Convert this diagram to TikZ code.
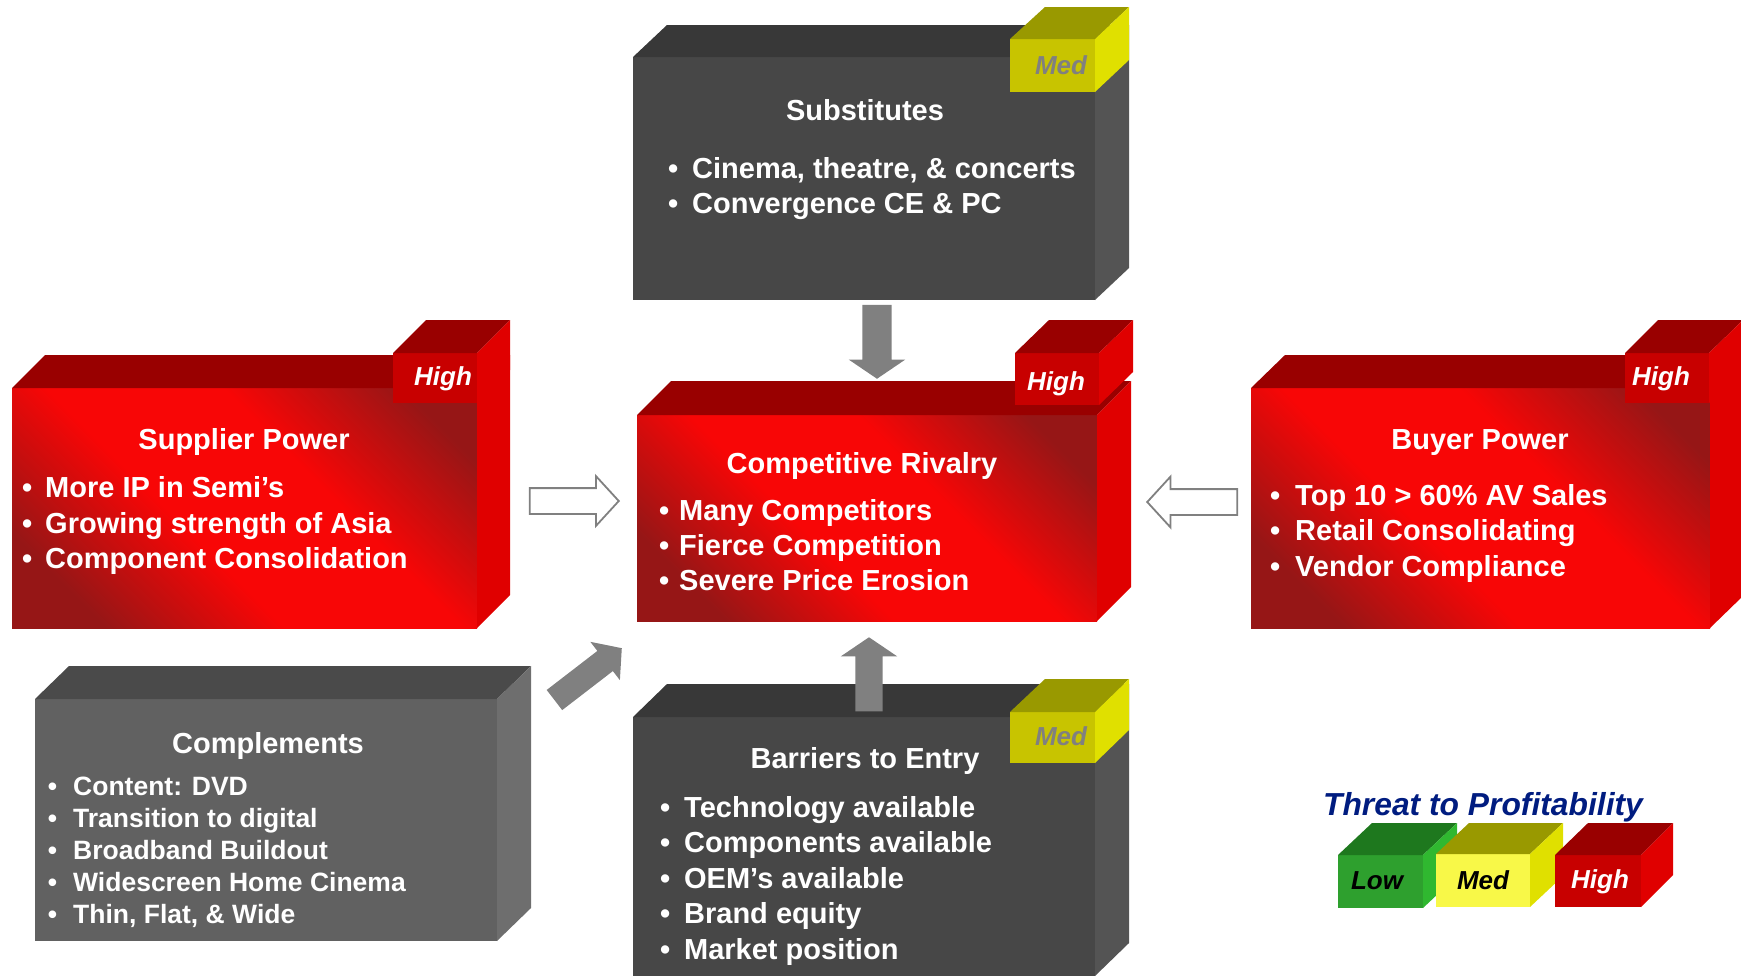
\documentclass[tikz,border=0pt]{standalone}
\usepackage{fontspec}
\setmainfont{Liberation Sans}
\usetikzlibrary{shapes.arrows}

\definecolor{gfront}{RGB}{71,71,71}
\definecolor{gtop}{RGB}{56,56,56}
\definecolor{gside}{RGB}{84,84,84}
\definecolor{cfront}{RGB}{97,97,97}
\definecolor{ctop}{RGB}{74,74,74}
\definecolor{cside}{RGB}{110,110,110}
\definecolor{rdark}{RGB}{150,22,22}
\definecolor{rbright}{RGB}{248,6,6}
\definecolor{rtop}{RGB}{153,0,0}
\definecolor{rside}{RGB}{224,0,0}
\definecolor{rbadge}{RGB}{200,0,0}
\definecolor{ybadge}{RGB}{200,196,0}
\definecolor{ytop}{RGB}{153,153,0}
\definecolor{yside}{RGB}{224,224,0}
\definecolor{lowfront}{RGB}{46,160,46}
\definecolor{lowtop}{RGB}{30,120,30}
\definecolor{lowside}{RGB}{48,184,48}
\definecolor{medfront}{RGB}{248,248,72}
\definecolor{arrgrey}{RGB}{128,128,128}
\definecolor{threatblue}{RGB}{0,28,128}

\pgfdeclareverticalshading{redglow}{100bp}{color(0bp)=(rdark); color(24bp)=(rdark); color(42bp)=(rbright); color(60bp)=(rbright); color(78bp)=(rdark); color(100bp)=(rdark)}

\newcommand\bul[1][14pt]{\llap{\textbullet\hspace{#1}}}

\begin{document}
\begin{tikzpicture}[x=1pt,y=-1pt,
  title/.style={text=white,font=\fontsize{29}{35}\selectfont\bfseries,anchor=base,inner sep=0pt},
  item/.style={text=white,font=\fontsize{29}{35}\selectfont\bfseries,anchor=base west,inner sep=0pt},
  smallitem/.style={item,font=\fontsize{26.5}{32}\selectfont\bfseries},
  lvl/.style={font=\fontsize{26}{30}\selectfont\bfseries\itshape,anchor=base,inner sep=0pt},
  redface/.style={shading=redglow,shading angle=-45},
  blockarrow/.style={single arrow,fill=arrgrey,inner xsep=0pt,anchor=tip},
  openarrow/.style={single arrow,draw=arrgrey,line width=1.8pt,fill=white,inner xsep=0pt,anchor=tip},
]
\useasboundingbox (0,0) rectangle (1741,975);

% substitutes
\fill[gfront] (633,57) rectangle (1095,300);
\fill[gtop] (633,57) -- (667,25) -- (1129,25) -- (1095,57) -- cycle;
\fill[gside] (1095,57) -- (1129,25) -- (1129,268) -- (1095,300) -- cycle;
\fill[ybadge] (1010,39) rectangle (1095,92);
\fill[ytop] (1010,39) -- (1045,7) -- (1129,7) -- (1095,39) -- cycle;
\fill[yside] (1095,39) -- (1129,7) -- (1129,60) -- (1095,92) -- cycle;
\node (subsLvl) at (1061,74)[lvl,text=arrgrey] {Med};
\node (subsT) at (865,120)[title] {Substitutes};
\node (subs1) at (692,178)[item] {\bul Cinema, theatre, \& concerts};
\node (subs2) at (692,213)[item] {\bul Convergence CE \& PC};

% supplier power
\shade[redface] (12,388) rectangle (477,628);
\fill[rtop] (12,388) -- (45,355) -- (510,355) -- (477,388) -- cycle;
\fill[rside] (477,388) -- (510,355) -- (510,595) -- (477,628) -- cycle;
\fill[rbadge] (393,353) rectangle (477,403);
\fill[rtop] (393,353) -- (426,320) -- (510,320) -- (477,353) -- cycle;
\fill[rside] (477,353) -- (510,320) -- (510,370) -- (477,403) -- cycle;
\node (suppLvl) at (443,385)[lvl,text=white] {High};
\node (suppT) at (244,449)[title] {Supplier Power};
\node (supp1) at (45,497)[item] {\bul[13pt]More IP in Semi’s};
\node (supp2) at (45,533)[item] {\bul[13pt]Growing strength of Asia};
\node (supp3) at (45,568)[item] {\bul[13pt]Component Consolidation};

% competitive rivalry
\shade[redface] (637,415) rectangle (1097,621);
\fill[rtop] (637,415) -- (671,381) -- (1131,381) -- (1097,415) -- cycle;
\fill[rside] (1097,415) -- (1131,381) -- (1131,587) -- (1097,621) -- cycle;
\fill[rbadge] (1015,353) rectangle (1099,405);
\fill[rtop] (1015,353) -- (1049,320) -- (1133,320) -- (1099,353) -- cycle;
\fill[rside] (1099,353) -- (1133,320) -- (1133,372) -- (1099,405) -- cycle;
\node (rivLvl) at (1056,390)[lvl,text=white] {High};
\node (rivT) at (862,473)[title] {Competitive Rivalry};
\node (riv1) at (679,520)[item] {\bul[10pt]Many Competitors};
\node (riv2) at (679,555)[item] {\bul[10pt]Fierce Competition};
\node (riv3) at (679,590)[item] {\bul[10pt]Severe Price Erosion};

% buyer power
\shade[redface] (1251,388) rectangle (1710,628);
\fill[rtop] (1251,388) -- (1285,355) -- (1744,355) -- (1710,388) -- cycle;
\fill[rside] (1710,388) -- (1744,355) -- (1744,595) -- (1710,628) -- cycle;
\fill[rbadge] (1625,353) rectangle (1709,403);
\fill[rtop] (1625,353) -- (1658,320) -- (1743,320) -- (1709,353) -- cycle;
\fill[rside] (1709,353) -- (1743,320) -- (1743,370) -- (1709,403) -- cycle;
\node (buyLvl) at (1661,385)[lvl,text=white] {High};
\node (buyT) at (1480,449)[title] {Buyer Power};
\node (buy1) at (1295,505)[item] {\bul[15pt]Top 10 > 60\% AV Sales};
\node (buy2) at (1295,540)[item] {\bul[15pt]Retail Consolidating};
\node (buy3) at (1295,576)[item] {\bul[15pt]Vendor Compliance};

% complements
\fill[cfront] (35,699) rectangle (497,941);
\fill[ctop] (35,699) -- (69,666) -- (531,666) -- (497,699) -- cycle;
\fill[cside] (497,699) -- (531,666) -- (531,908) -- (497,941) -- cycle;
\node (compT) at (268,753)[title] {Complements};
\node (comp1) at (73,795)[smallitem] {\bul[16pt]Content: DVD};
\node (comp2) at (73,827)[smallitem] {\bul[16pt]Transition to digital};
\node (comp3) at (73,859)[smallitem] {\bul[16pt]Broadband Buildout};
\node (comp4) at (73,891)[smallitem] {\bul[16pt]Widescreen Home Cinema};
\node (comp5) at (73,923)[smallitem] {\bul[16pt]Thin, Flat, \& Wide};

% barriers to entry
\fill[gfront] (633,717) rectangle (1095,976);
\fill[gtop] (633,717) -- (667,684) -- (1129,684) -- (1095,717) -- cycle;
\fill[gside] (1095,717) -- (1129,684) -- (1129,943) -- (1095,976) -- cycle;
\fill[ybadge] (1010,712) rectangle (1095,763);
\fill[ytop] (1010,712) -- (1045,679) -- (1129,679) -- (1095,712) -- cycle;
\fill[yside] (1095,712) -- (1129,679) -- (1129,730) -- (1095,763) -- cycle;
\node (barLvl) at (1061,745)[lvl,text=arrgrey] {Med};
\node (barT) at (865,768)[title] {Barriers to Entry};
\node (bar1) at (684,817)[item] {\bul Technology available};
\node (bar2) at (684,852)[item] {\bul Components available};
\node (bar3) at (684,888)[item] {\bul OEM’s available};
\node (bar4) at (684,923)[item] {\bul Brand equity};
\node (bar5) at (684,959)[item] {\bul Market position};

% arrows into the rivalry box
\node (arrSubs) at (877,379)[blockarrow,rotate=-90,minimum height=74pt,inner ysep=14.5pt,single arrow head extend=13.5pt,single arrow tip angle=111.7] {};
\node (arrBar) at (869,637)[blockarrow,rotate=90,minimum height=74pt,inner ysep=13.5pt,single arrow head extend=14.5pt,single arrow tip angle=111.7] {};
\node (arrComp) at (622,648)[blockarrow,rotate=37.6,minimum height=85pt,inner ysep=12.5pt,single arrow head extend=11.5pt,single arrow tip angle=98] {};
\node (arrSupp) at (620,501)[openarrow,minimum height=89pt,inner ysep=12pt,single arrow head extend=12pt,single arrow tip angle=95] {};
\node (arrBuy) at (1146,502)[openarrow,rotate=180,minimum height=90pt,inner ysep=12pt,single arrow head extend=12.5pt,single arrow tip angle=95] {};

% legend
\node (legT) at (1483,815)[lvl,font=\fontsize{31.8}{36}\selectfont\bfseries\itshape,text=threatblue] {Threat to Profitability};
\fill[lowfront] (1338,855) rectangle (1423,908);
\fill[lowtop] (1338,855) -- (1372,823) -- (1457,823) -- (1423,855) -- cycle;
\fill[lowside] (1423,855) -- (1457,823) -- (1457,876) -- (1423,908) -- cycle;
\fill[medfront] (1436,854) rectangle (1530,907);
\fill[ytop] (1436,854) -- (1469,823) -- (1563,823) -- (1530,854) -- cycle;
\fill[yside] (1530,854) -- (1563,823) -- (1563,876) -- (1530,907) -- cycle;
\fill[rbadge] (1555,855) rectangle (1641,907);
\fill[rtop] (1555,855) -- (1588,823) -- (1673,823) -- (1641,855) -- cycle;
\fill[rside] (1641,855) -- (1673,823) -- (1673,875) -- (1641,907) -- cycle;
\node (legLow) at (1377,889)[lvl,text=black] {Low};
\node (legMed) at (1483,889)[lvl,text=black] {Med};
\node (legHigh) at (1600,888)[lvl,text=white] {High};
\end{tikzpicture}
\end{document}
